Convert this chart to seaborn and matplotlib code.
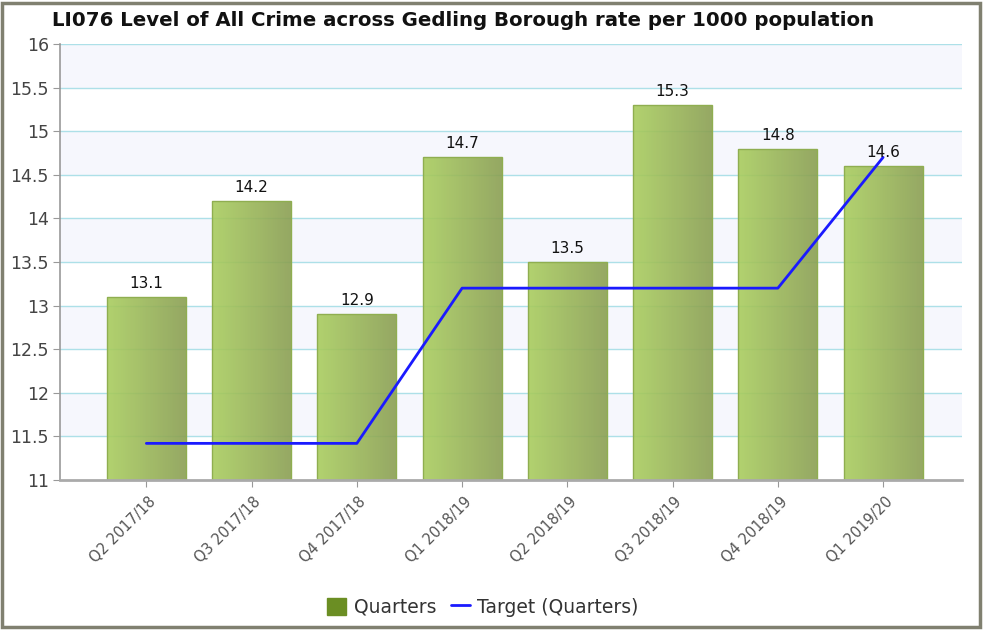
import numpy as np
import pandas as pd
import matplotlib
matplotlib.use("Agg")
import matplotlib.pyplot as plt
import matplotlib.transforms as mtransforms
import seaborn as sns
from matplotlib.patches import Rectangle
from matplotlib.lines import Line2D
from matplotlib.colors import LinearSegmentedColormap

quarters = ["Q2 2017/18", "Q3 2017/18", "Q4 2017/18", "Q1 2018/19",
            "Q2 2018/19", "Q3 2018/19", "Q4 2018/19", "Q1 2019/20"]
values = [13.1, 14.2, 12.9, 14.7, 13.5, 15.3, 14.8, 14.6]
target = [11.42, 11.42, 11.42, 13.2, 13.2, 13.2, 13.2, 14.7]
yticks = [11, 11.5, 12, 12.5, 13, 13.5, 14, 14.5, 15, 15.5, 16]
title = "LI076 Level of All Crime across Gedling Borough rate per 1000 population"

df = pd.DataFrame({"quarter": quarters, "value": values})

sns.set_style("white")
plt.rcParams['font.family'] = ['DejaVu Sans']

fig = plt.figure(figsize=(9.86, 6.3), dpi=100)
ax = fig.add_axes([0.0609, 0.2381, 0.9148, 0.6921])

# alternating background bands
for i in range(len(yticks) - 1):
    if i % 2 == 1:
        ax.axhspan(yticks[i], yticks[i + 1], facecolor="#f6f7fd", zorder=0, lw=0)
for t in yticks[1:]:
    ax.axhline(t, color="#ade0e8", lw=1.0, zorder=0.5)

sns.barplot(data=df, x="quarter", y="value", ax=ax, width=0.75,
            color="#9bbb59", saturation=1, zorder=2)

cmap = LinearSegmentedColormap.from_list("g", ["#a9cd5e", "#8a9f52"])
grad = np.linspace(0, 1, 64).reshape(1, -1)
for p in ax.containers[0]:
    x0, y0 = p.get_x(), p.get_y()
    w, h = p.get_width(), p.get_height()
    p.set_facecolor("none")
    p.set_edgecolor("#8fae50")
    p.set_linewidth(1.0)
    im = ax.imshow(grad, cmap=cmap, extent=[x0, x0 + w, 11, y0 + h],
                   aspect="auto", zorder=1.8, alpha=0.9, interpolation="bilinear")
    clip = Rectangle((x0, 11), w, y0 + h - 11, transform=ax.transData)
    im.set_clip_path(clip)

for i, v in enumerate(values):
    ax.text(i, v + 0.07, f"{v}", ha="center", va="bottom", fontsize=11,
            color="#111111", zorder=5)

sns.lineplot(x=np.arange(len(quarters)), y=target, ax=ax, color="#1a1aff",
             lw=2, zorder=4)

ax.set_xlim(-0.82, 7.75)
ax.set_ylim(11, 16)
ax.set_xlabel("")
ax.set_ylabel("")
for s in ["top", "right"]:
    ax.spines[s].set_visible(False)
ax.spines["left"].set_color("#999999")
ax.spines["left"].set_linewidth(1.2)
ax.spines["bottom"].set_color("#aaaaaa")
ax.spines["bottom"].set_linewidth(2)
ax.tick_params(axis="y", left=True, length=5, color="#999999", pad=3)
ax.tick_params(axis="x", bottom=True, length=5, color="#999999", pad=4)

ax.set_yticks(yticks)
ax.set_yticklabels([f"{t:g}" for t in yticks], fontsize=12.5, color="#444444")
ax.set_xticks(range(len(quarters)))
ax.set_xticklabels(quarters, rotation=45, ha="right", va="center",
                   rotation_mode="anchor", fontsize=10.5, color="#555555")
offset = mtransforms.ScaledTranslation(7 / 100, -7 / 100, fig.dpi_scale_trans)
for lab in ax.get_xticklabels():
    lab.set_transform(lab.get_transform() + offset)

fig.text(0.47, 0.967, title, ha="center", va="center", fontsize=14.2,
         fontweight="bold", color="#111111")

handles = [Rectangle((0, 0), 1, 1, facecolor="#6b8e23", edgecolor="#6b8e23"),
           Line2D([0], [0], color="#1a1aff", lw=2)]
fig.legend(handles, ["Quarters", "Target (Quarters)"], loc="center",
           bbox_to_anchor=(0.49, 0.036), ncol=2, frameon=False, fontsize=13.5,
           handlelength=1.0, handleheight=1.0, columnspacing=0.8, handletextpad=0.4,
           labelcolor="#333333")

fig.add_artist(Rectangle((0.002, 0.004), 0.992, 0.992, transform=fig.transFigure,
                         fill=False, edgecolor="#808070", lw=2.5))

fig.savefig("out.png", dpi=100)
